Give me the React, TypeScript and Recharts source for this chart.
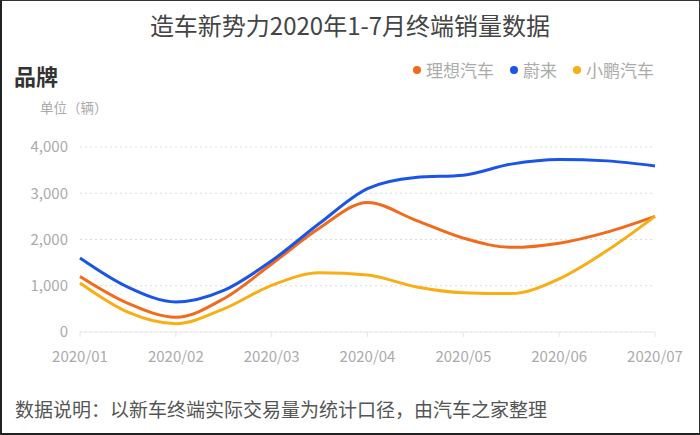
import { LineChart, Line, XAxis, YAxis, CartesianGrid } from "recharts";

// month labels on the x axis
const months = ["2020/01", "2020/02", "2020/03", "2020/04", "2020/05", "2020/06", "2020/07"];
// sample positions (month index, half-month steps)
const positions = [0, 0.5, 1, 1.5, 2, 2.5, 3, 3.5, 4, 4.5, 5, 5.5, 6];

const lixiang = [1200, 620, 320, 720, 1470, 2250, 2800, 2420, 2030, 1830, 1920, 2160, 2500];
const nio = [1600, 970, 650, 900, 1540, 2350, 3100, 3340, 3390, 3630, 3730, 3700, 3590];
const xpeng = [1060, 430, 180, 500, 1010, 1280, 1230, 980, 850, 830, 1150, 1760, 2500];

const yTicks = [0, 1000, 2000, 3000, 4000];

const series = [
  { key: "lixiang", name: "理想汽车", color: "#F26A1B" },
  { key: "nio", name: "蔚来", color: "#1A55E8" },
  { key: "xpeng", name: "小鹏汽车", color: "#F8AE14" },
];

const data = positions.map((p, i) => ({
  x: p,
  lixiang: lixiang[i],
  nio: nio[i],
  xpeng: xpeng[i],
}));

const font = '"Noto Sans CJK SC", "Noto Sans", sans-serif';
const tickStyle = { fill: "#ababab", fontSize: 15, fontFamily: font };

export default function App() {
  return (
    <div
      style={{
        position: "absolute",
        left: 0,
        top: 0,
        width: 700,
        height: 435,
        boxSizing: "border-box",
        borderLeft: "2px solid #222",
        borderTop: "1px solid #333",
        borderRight: "1px solid #333",
        borderBottom: "2px solid #222",
        background: "#fff",
        fontFamily: font,
        overflow: "hidden",
      }}
    >
      <div
        style={{
          position: "absolute",
          top: 8,
          left: -2,
          width: 700,
          textAlign: "center",
          fontSize: 24,
          fontWeight: 400,
          color: "#444",
          lineHeight: "32px",
        }}
      >
        造车新势力2020年1-7月终端销量数据
      </div>
      <div
        style={{
          position: "absolute",
          top: 59,
          left: 12,
          fontSize: 22,
          fontWeight: 700,
          color: "#333",
          lineHeight: "30px",
        }}
      >
        品牌
      </div>
      <div
        style={{
          position: "absolute",
          top: 96,
          left: 38,
          fontSize: 13.5,
          color: "#ababab",
          lineHeight: "20px",
        }}
      >
        单位（辆）
      </div>
      <div
        style={{
          position: "absolute",
          top: 57,
          right: 45,
          display: "flex",
          alignItems: "center",
          fontSize: 17,
          color: "#ababab",
          lineHeight: "24px",
        }}
      >
        {series.map((s) => (
          <div key={s.key} style={{ display: "flex", alignItems: "center", marginLeft: 16 }}>
            <span
              style={{
                display: "inline-block",
                width: 8,
                height: 8,
                borderRadius: 4,
                background: s.color,
                marginRight: 5,
              }}
            />
            {s.name}
          </div>
        ))}
      </div>
      <div style={{ position: "absolute", left: -2, top: -1 }}>
        <LineChart
          width={700}
          height={435}
          data={data}
          margin={{ top: 147, right: 45, bottom: 73, left: 20 }}
        >
          <CartesianGrid vertical={false} stroke="#dcdcdc" strokeDasharray="2 3" />
          <XAxis
            dataKey="x"
            type="number"
            domain={[0, 6]}
            ticks={[0, 1, 2, 3, 4, 5, 6]}
            interval={0}
            tickFormatter={(v: number) => months[v]}
            tick={tickStyle}
            axisLine={{ stroke: "#ececec" }}
            tickLine={{ stroke: "#e6e6e6" }}
            tickSize={5}
            tickMargin={14}
            height={30}
          />
          <YAxis
            domain={[0, 4000]}
            ticks={yTicks}
            interval={0}
            tickFormatter={(v: number) => v.toLocaleString("en-US")}
            tick={tickStyle}
            axisLine={false}
            tickLine={false}
            tickSize={0}
            tickMargin={12}
            width={60}
          />
          {series.map((s) => (
            <Line
              key={s.key}
              type="monotone"
              dataKey={s.key}
              name={s.name}
              stroke={s.color}
              strokeWidth={3}
              dot={false}
              activeDot={false}
              isAnimationActive={false}
            />
          ))}
        </LineChart>
      </div>
      <div
        style={{
          position: "absolute",
          top: 395,
          left: 13,
          fontSize: 19,
          color: "#555",
          lineHeight: "26px",
        }}
      >
        数据说明：以新车终端实际交易量为统计口径，由汽车之家整理
      </div>
    </div>
  );
}
